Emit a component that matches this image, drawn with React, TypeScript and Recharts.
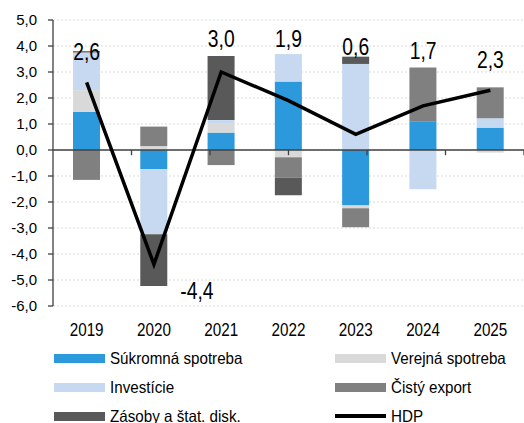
import { ComposedChart, Bar, Line, XAxis, YAxis, CartesianGrid, ReferenceLine, LabelList } from 'recharts';

// Príspevky k rastu HDP (p.b.)
const years = ['2019', '2020', '2021', '2022', '2023', '2024', '2025'];
const sukromna = [1.47, -0.73, 0.67, 2.63, -2.13, 1.09, 0.86];
const verejna = [0.83, 0.15, 0.36, -0.28, -0.11, 0, -0.1];
const investicie = [1.45, -2.51, 0.12, 1.06, 3.31, -1.51, 0.36];
const cistyExport = [-1.15, 0.75, -0.58, -0.78, -0.73, 2.08, 1.19];
const zasoby = [0.05, -1.99, 2.47, -0.68, 0.28, 0, 0];
const hdp = [2.6, -4.4, 3.0, 1.9, 0.6, 1.7, 2.3];
const yTicks = [-6, -5, -4, -3, -2, -1, 0, 1, 2, 3, 4, 5];

// posun popisov HDP voči bodu (px), ručne ako v Exceli
const labelShift = [[0, -31], [43, 26], [0, -33], [0, -62], [0, -88], [0, -55], [0, -30]];

const series = [
    { key: 'sukromna', name: 'Súkromná spotreba', color: '#2B99DB' },
    { key: 'verejna', name: 'Verejná spotreba', color: '#D9D9D9' },
    { key: 'investicie', name: 'Investície', color: '#C6D9F0' },
    { key: 'cistyExport', name: 'Čistý export', color: '#808080' },
    { key: 'zasoby', name: 'Zásoby a štat. disk.', color: '#595959' },
];

const data = years.map((year, i) => ({
    year,
    sukromna: sukromna[i],
    verejna: verejna[i],
    investicie: investicie[i],
    cistyExport: cistyExport[i],
    zasoby: zasoby[i],
    hdp: hdp[i],
}));

const fmt = (v: number) => v.toFixed(1).replace('.', ',');
const FONT = '"Liberation Sans", Arial, sans-serif';

// písmo v origináli je zúžené, tak ho stlačíme do šírky
const YearTick = (props: any) => {
    const { x, y, payload } = props;
    return (
        <g transform={`translate(${x},${y})`}>
            <text transform="scale(0.87,1)" textAnchor="middle" dy="0.71em" fontSize={17.5} fill="#000" fontFamily={FONT}>
                {payload.value}
            </text>
        </g>
    );
};

const HdpLabel = (props: any) => {
    const { x, y, value, index } = props;
    const [dx, dy] = labelShift[index] || [0, -20];
    return (
        <g transform={`translate(${x + dx},${y + dy})`}>
            <text transform="scale(0.84,1)" textAnchor="middle" dominantBaseline="central" fontSize={23} fill="#000" fontFamily={FONT}>
                {fmt(value)}
            </text>
        </g>
    );
};

const legendItems = [
    { ...series[0], col: 0, row: 0 },
    { ...series[1], col: 1, row: 0 },
    { ...series[2], col: 0, row: 1 },
    { ...series[3], col: 1, row: 1 },
    { ...series[4], col: 0, row: 2 },
    { key: 'hdp', name: 'HDP', color: '#000', col: 1, row: 2, line: true },
];

export default function App() {
    return (
        <div style={{ position: 'relative', width: 524, height: 423, background: '#fff', fontFamily: FONT }}>
            <style>{'body{margin:0}'}</style>
            <ComposedChart
                width={524}
                height={346}
                data={data}
                stackOffset="sign"
                margin={{ top: 20, right: 0, left: 0, bottom: 0 }}
            >
                <CartesianGrid vertical={false} stroke="#D9D9D9" strokeDasharray="2 2" />
                <XAxis
                    dataKey="year"
                    axisLine={false}
                    tickLine={false}
                    tickSize={6}
                    tickMargin={12}
                    height={40}
                    tick={YearTick}
                />
                <XAxis xAxisId="hranice" type="number" domain={[0, 7]} hide />
                <YAxis
                    domain={[-6, 5]}
                    ticks={yTicks}
                    interval={0}
                    width={53}
                    tickFormatter={fmt}
                    axisLine={{ stroke: '#404040', strokeWidth: 1.3 }}
                    tickLine={{ stroke: '#404040', strokeWidth: 1.3 }}
                    tickSize={5}
                    tickMargin={11}
                    tick={{ fontSize: 15, fill: '#000', fontFamily: FONT }}
                />
                {series.map((s) => (
                    <Bar
                        key={s.key}
                        dataKey={s.key}
                        name={s.name}
                        stackId="a"
                        fill={s.color}
                        barSize={27}
                        isAnimationActive={false}
                    />
                ))}
                <ReferenceLine y={0} stroke="#404040" strokeWidth={1.5} />
                {[1, 2, 3, 4, 5, 6].map((b) => (
                    <ReferenceLine
                        key={b}
                        xAxisId="hranice"
                        segment={[{ x: b, y: 0 }, { x: b, y: -0.2 }]}
                        stroke="#404040"
                        strokeWidth={1.3}
                        ifOverflow="visible"
                    />
                ))}
                <Line
                    dataKey="hdp"
                    name="HDP"
                    stroke="#000"
                    strokeWidth={3.5}
                    dot={false}
                    activeDot={false}
                    isAnimationActive={false}
                >
                    <LabelList dataKey="hdp" content={HdpLabel} />
                </Line>
            </ComposedChart>
            {legendItems.map((it) => {
                const cy = 358 + it.row * 29;
                const left = it.col === 0 ? 54 : 335;
                return (
                    <div key={it.key} style={{ position: 'absolute', left, top: cy - 11, height: 22, display: 'flex', alignItems: 'center' }}>
                        <div
                            style={{
                                width: 51,
                                height: it.line ? 3.5 : 9,
                                background: it.color,
                                marginRight: 5,
                                flexShrink: 0,
                            }}
                        />
                        <span
                            style={{
                                fontSize: 16.5,
                                color: '#000',
                                whiteSpace: 'nowrap',
                                display: 'inline-block',
                                transform: 'scaleX(0.92)',
                                transformOrigin: 'left center',
                            }}
                        >
                            {it.name}
                        </span>
                    </div>
                );
            })}
        </div>
    );
}
